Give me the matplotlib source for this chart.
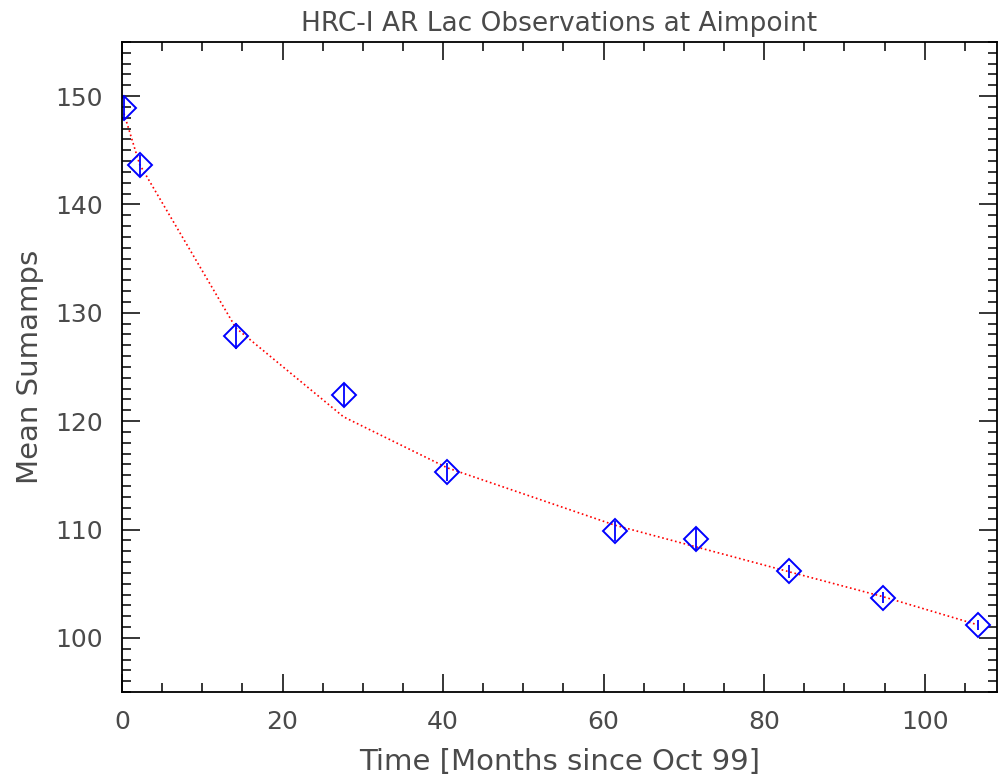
#HRC-I AR Lac aimpoint observations: mean sumamps vs time, with fit curve
import numpy as np
import matplotlib.pyplot as plt
from matplotlib.ticker import MultipleLocator

#Observed mean sumamps (months since Oct 99)
months = [0.25, 2.2, 14.2, 27.6, 40.5, 61.4, 71.5, 83.1, 94.8, 106.6]
sumamps = [148.9, 143.6, 127.9, 122.4, 115.3, 109.85, 109.1, 106.15, 103.7, 101.2]
sumamps_err = [1.1, 1.0, 1.2, 1.1, 0.85, 0.9, 1.0, 0.6, 0.5, 0.45]

#Fitted model evaluated at the same times
fit = [148.4, 143.7, 128.6, 120.4, 115.7, 110.4, 108.4, 106.1, 103.8, 101.2]

plt.rcParams['font.family'] = 'DejaVu Sans'
txtcol = '#4a4a4a'

fig = plt.figure(figsize=(9.98, 7.83), dpi=100)
ax = fig.add_axes([0.1222, 0.1162, 0.8768, 0.8302])

ax.plot(months, fit, color='red', ls=':', lw=1.2)
ax.errorbar(months, sumamps, yerr=sumamps_err, fmt='none', ecolor='blue', elinewidth=1.3)
ax.plot(months, sumamps, ls='none', marker='D', ms=12.5, mfc='none', mec='blue', mew=1.4)

ax.set_xlim(0, 109)
ax.set_ylim(95, 155)
ax.xaxis.set_major_locator(MultipleLocator(20))
ax.xaxis.set_minor_locator(MultipleLocator(5))
ax.yaxis.set_major_locator(MultipleLocator(10))
ax.yaxis.set_minor_locator(MultipleLocator(1))

ax.tick_params(which='both', direction='in', top=True, right=True, colors='black',
               labelcolor=txtcol, labelsize=18, width=1.1)
ax.tick_params(which='major', length=13)
ax.tick_params(which='minor', length=6.5)
ax.tick_params(axis='x', pad=13)
ax.tick_params(axis='y', pad=14)
for s in ax.spines.values():
    s.set_linewidth(1.3)

ax.set_xlabel('Time [Months since Oct 99]', fontsize=21, color=txtcol, labelpad=10)
ax.set_ylabel('Mean Sumamps', fontsize=21, color=txtcol, labelpad=8)
ax.set_title('HRC-I AR Lac Observations at Aimpoint', fontsize=19, color=txtcol, pad=8)

fig.savefig('out.png', dpi=100)
